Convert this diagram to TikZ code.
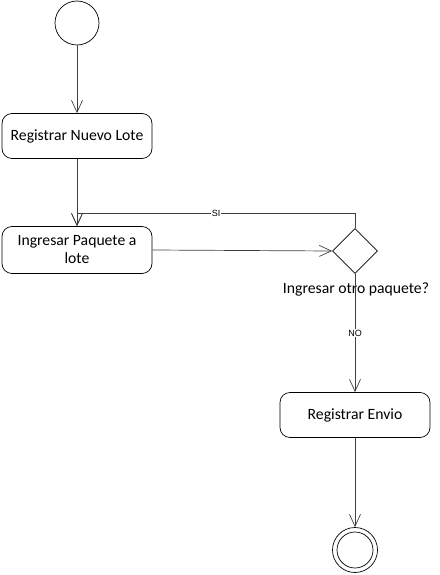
\documentclass[tikz,border=0pt]{standalone}
\usepackage{fontspec}
\setmainfont{Carlito}
\newfontfamily\lblfont{Liberation Sans}
\usetikzlibrary{arrows.meta,shapes.geometric}
\begin{document}
\begin{tikzpicture}[x=1pt,y=-1pt,
    font=\fontsize{15.7}{18}\selectfont,
    act/.style={draw,rounded corners=10pt,minimum width=150pt,minimum height=45pt,align=center,line width=0.7pt},
    flow/.style={draw=black!75,line width=0.7pt,-{Straight Barb[length=12pt,width=11pt,line width=0.7pt]}},
    lbl/.style={fill=white,inner sep=1pt,font=\lblfont\fontsize{9}{10}\selectfont}]
    \useasboundingbox (0,0) rectangle (439,575);
    \node[draw,circle,minimum size=44pt,inner sep=0pt,line width=0.7pt] (start) at (77,23) {};
    \node[act] (newlot) at (77,136) {Registrar Nuevo Lote};
    \node[act,minimum height=47pt] (addpkg) at (77,250) {Ingresar Paquete a\\lote};
    \node[draw,diamond,minimum size=45pt,inner sep=0pt,line width=0.7pt] (more) at (355,251) {};
    \node (moretxt) at (356,289) {Ingresar otro paquete?};
    \node[act] (send) at (355,415) {Registrar Envio};
    \node[draw,circle,minimum size=45pt,inner sep=0pt,line width=0.7pt] (stop) at (355,550) {};
    \node[draw,circle,minimum size=36pt,inner sep=0pt,line width=0.7pt] (stopin) at (355,550) {};
    % flujo
    \draw[flow] (start) -- (newlot);
    \draw[flow] (newlot) -- (addpkg);
    \draw[flow] (addpkg.east) -- (more.west);
    \draw[flow] (more.north) -- ++(0,-15) -| node[lbl,pos=0.25] {SI} (addpkg.north);
    \draw[flow] (more.south) -- node[lbl,pos=0.5] {NO} (send.north);
    \draw[flow] (send) -- (stop);
\end{tikzpicture}
\end{document}
